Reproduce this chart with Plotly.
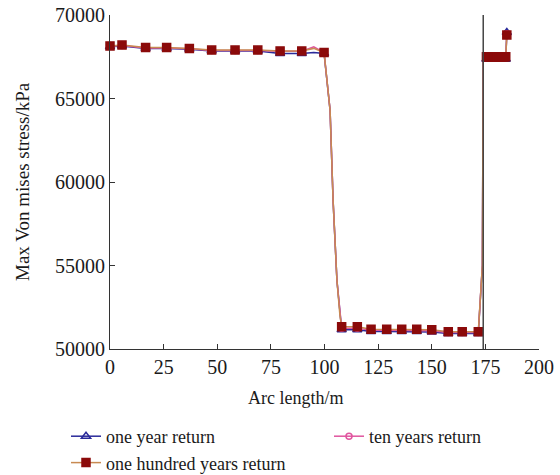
import plotly.graph_objects as go

# ---- data ----
# marker positions (arc length, m)
x_up = [0, 5.6, 16.6, 26.4, 37, 47.4, 58.3, 68.9, 79.3, 89.4, 99.8]
x_low = [108, 115.3, 121.7, 129, 136, 143, 150, 157.7, 164.2, 171.7]
x_block = [175.5, 176, 176.5, 177, 177.5, 178, 178.5, 179, 179.5, 180, 180.5, 181,
           181.5, 182, 182.5, 183, 183.5, 184, 184.5]
x_end = [185]

# one year return
y1_up = [68100, 68150, 68000, 68000, 67950, 67850, 67850, 67850, 67700, 67700, 67700]
y1_low = [51150, 51150, 51050, 51050, 51050, 51050, 51020, 50930, 50930, 50930]
y1_block = [67350] * 19
y1_end = [68950]

# ten years return
y10_up = [68130, 68180, 68030, 68030, 67980, 67880, 67880, 67880, 67830, 67830, 67750]
y10_low = [51250, 51250, 51120, 51120, 51120, 51120, 51090, 50990, 50990, 50990]
y10_block = [67450] * 19
y10_end = [68880]

# one hundred years return
y100_up = [68150, 68200, 68050, 68050, 68000, 67900, 67900, 67900, 67850, 67850, 67750]
y100_low = [51330, 51330, 51180, 51180, 51180, 51180, 51150, 51040, 51040, 51040]
y100_block = [67500] * 19
y100_end = [68800]

# intermediate (unmarked) line points: upper bump, drop and rise
x_bump = [95]
y1_bump = [67750]
y10_bump = [68100]
y100_bump = [68000]
x_drop = [102.6, 104, 105.8, 107.2]
y_drop = [64300, 58900, 54100, 52000]
x_rise = [173.6, 174]
y_rise = [55000, 67450]

x_ticks = [0, 25, 50, 75, 100, 125, 150, 175, 200]
y_ticks = [50000, 55000, 60000, 65000, 70000]

series = [
    ("one year return", y1_up, y1_bump, y1_low, y1_block, y1_end, "#2a2a9a", "triangle-up-open", 8, "legend"),
    ("ten years return", y10_up, y10_bump, y10_low, y10_block, y10_end, "#e0559f", "circle-open", 6, "legend2"),
    ("one hundred years return", y100_up, y100_bump, y100_low, y100_block, y100_end, "#c88a52", "square", 8, "legend"),
]
marker_colors = {"one year return": "#2a2a9a", "ten years return": "#e0559f",
                 "one hundred years return": "#8b0a0a"}

fig = go.Figure()
for name, yu, yb, yl, yk, ye, lc, sym, ms, lg in series:
    lx = x_up[:10] + x_bump + [x_up[10]] + x_drop + x_low + x_rise + x_block + x_end
    ly = yu[:10] + yb + [yu[10]] + y_drop + yl + y_rise + yk + ye
    fig.add_trace(go.Scatter(x=lx, y=ly, mode="lines", line=dict(color=lc, width=1.5),
                             showlegend=False, cliponaxis=False, hoverinfo="skip"))
for name, yu, yb, yl, yk, ye, lc, sym, ms, lg in series:
    mc = marker_colors[name]
    fig.add_trace(go.Scatter(x=x_up + x_low + x_block + x_end, y=yu + yl + yk + ye, mode="markers",
                             marker=dict(symbol=sym, size=ms, color=mc, line=dict(color=mc, width=1.5)),
                             showlegend=False, cliponaxis=False))
for name, yu, yb, yl, yk, ye, lc, sym, ms, lg in series:
    mc = marker_colors[name]
    fig.add_trace(go.Scatter(x=[None], y=[None], mode="lines+markers", name=name, legend=lg,
                             line=dict(color=lc, width=1.5),
                             marker=dict(symbol=sym, size=ms, color=mc, line=dict(color=mc, width=1.5))))

fig.add_shape(type="line", xref="x", yref="paper", x0=174, x1=174, y0=0, y1=1,
              line=dict(color="#444444", width=1.5))

font = "Liberation Serif, Times New Roman, serif"
fig.add_annotation(text="Max Von mises stress/kPa", textangle=-90, showarrow=False,
                   xref="paper", yref="paper", x=(22 - 110) / 429, y=0.5,
                   xanchor="center", yanchor="middle",
                   font=dict(family=font, size=19, color="#1a1a1a"))
fig.add_annotation(text="Arc length/m", showarrow=False,
                   xref="paper", yref="paper", x=(295 - 110) / 429, y=(349 - 398) / 334,
                   xanchor="center", yanchor="middle",
                   font=dict(family=font, size=18, color="#1a1a1a"))

leg_common = dict(orientation="v", xanchor="left", xref="container",
                  yanchor="top", yref="container", tracegroupgap=0,
                  font=dict(family=font, size=18, color="#1a1a1a"),
                  bgcolor="rgba(0,0,0,0)")
fig.update_layout(
    width=560, height=475,
    margin=dict(l=110, r=21, t=15, b=126, autoexpand=False),
    paper_bgcolor="white", plot_bgcolor="white",
    font=dict(family=font, size=20, color="#1a1a1a"),
    showlegend=True,
    legend=dict(x=66 / 560, y=1 - 418 / 475, **leg_common),
    legend2=dict(x=329 / 560, y=1 - 418 / 475, **leg_common),
)
fig.update_xaxes(range=[0, 200], tickvals=x_ticks, tickformat="d",
                 showgrid=False, zeroline=False, showline=True, linecolor="#333333", linewidth=1,
                 ticks="inside", ticklen=5, tickcolor="#333333")
fig.update_yaxes(range=[50000, 70000], tickvals=y_ticks, tickformat="d",
                 showgrid=False, zeroline=False, showline=True, linecolor="#333333", linewidth=1,
                 ticks="inside", ticklen=5, tickcolor="#333333")

fig.write_html("out.html")
